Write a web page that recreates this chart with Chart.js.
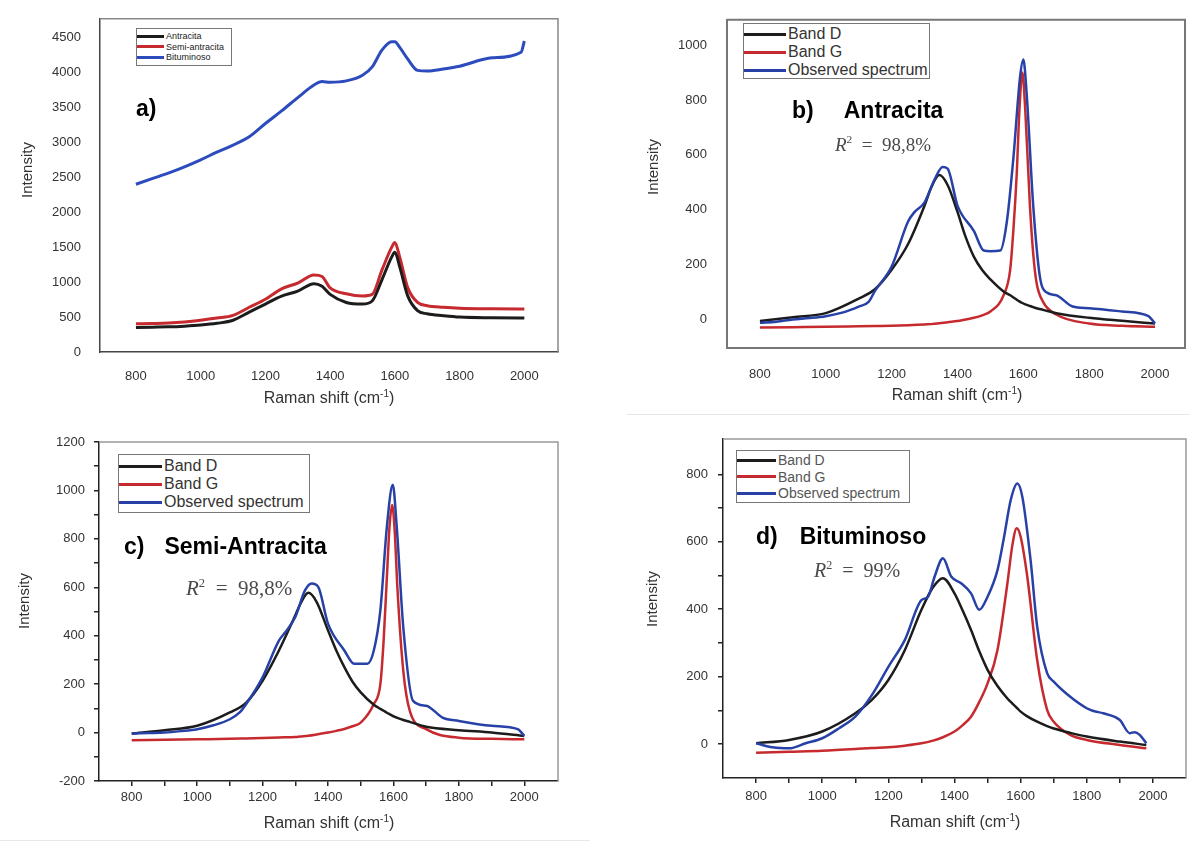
<!DOCTYPE html>
<html lang="es">
<head>
<meta charset="utf-8">
<title>Raman spectra</title>
<script src="https://cdn.jsdelivr.net/npm/chart.js@4.4.1/dist/chart.umd.min.js"></script>
<style>
	html, body { margin: 0; padding: 0; background: #fff; }
	body { position: relative; width: 1190px; height: 843px; overflow: hidden; font-family: 'Liberation Sans', Arial, sans-serif; color: #333; }
	canvas { position: absolute; }
	.txt { position: absolute; white-space: nowrap; line-height: 1; transform: translateY(-50%); }
	.tag { font-weight: bold; font-size: 23px; color: #000; }
	.r2 { font-family: 'Liberation Serif', 'DejaVu Serif', serif; color: #4a4a4a; }
	.r2 sup { font-size: 0.6em; line-height: 0; }
	.xt { font-size: 16px; transform: translate(-50%, -50%); }
	.yt { font-size: 15px; transform: translate(-50%, -50%) rotate(-90deg); }
	sup.u { font-size: 10px; line-height: 0; }
	.legend { position: absolute; border: 1px solid #777; background: #fff; box-sizing: border-box; }
	.legend .row { display: flex; align-items: center; white-space: nowrap; }
	.legend .smp { display: inline-block; height: 3px; margin-right: 2px; }
	.sep { position: absolute; height: 1px; background: #e8e8e8; }
</style>
</head>
<body>

<canvas id="chartA" width="595" height="410" style="left:0;top:0"></canvas>
<canvas id="chartB" width="590" height="410" style="left:600px;top:0"></canvas>
<canvas id="chartC" width="595" height="433" style="left:0;top:410px"></canvas>
<canvas id="chartD" width="590" height="433" style="left:600px;top:410px"></canvas>

<div class="sep" style="left:627px;top:414px;width:563px"></div>
<div class="sep" style="left:0;top:840px;width:590px"></div>

<div class="txt tag" style="left:136px;top:108px">a)</div>
<div class="txt tag" style="left:792px;top:110px">b)<span style="margin-left:30px">Antracita</span></div>
<div class="txt tag" style="left:124px;top:546px">c)<span style="margin-left:20px">Semi-Antracita</span></div>
<div class="txt tag" style="left:756px;top:536px">d)<span style="margin-left:22px">Bituminoso</span></div>

<div class="txt r2" style="left:835px;top:144px;font-size:19px"><i>R</i><sup>2</sup>&nbsp;&nbsp;=&nbsp;&nbsp;98,8%</div>
<div class="txt r2" style="left:186px;top:588px;font-size:21px"><i>R</i><sup>2</sup>&nbsp;&nbsp;=&nbsp;&nbsp;98,8%</div>
<div class="txt r2" style="left:814px;top:570px;font-size:20px"><i>R</i><sup>2</sup>&nbsp;&nbsp;=&nbsp;&nbsp;99%</div>

<div class="txt xt" style="left:329px;top:398px">Raman shift (cm<sup class="u">-1</sup>)</div>
<div class="txt yt" style="left:26px;top:170px">Intensity</div>
<div class="txt xt" style="left:957px;top:395px">Raman shift (cm<sup class="u">-1</sup>)</div>
<div class="txt yt" style="left:652px;top:167px">Intensity</div>
<div class="txt xt" style="left:329px;top:823px">Raman shift (cm<sup class="u">-1</sup>)</div>
<div class="txt yt" style="left:23px;top:601px">Intensity</div>
<div class="txt xt" style="left:955px;top:822px">Raman shift (cm<sup class="u">-1</sup>)</div>
<div class="txt yt" style="left:651px;top:599px">Intensity</div>

<script>
// ---- a) all three coals
var shiftA = [800, 850, 900, 950, 1000, 1050, 1100, 1150, 1200, 1250, 1300, 1350, 1375, 1400, 1450, 1500, 1530, 1560, 1590, 1600, 1615, 1640, 1670, 1700, 1750, 1800, 1900, 1990, 2000];
var antracitaA = [350, 355, 360, 370, 385, 410, 454, 570, 686, 800, 871, 978, 940, 825, 709, 686, 730, 1033, 1358, 1427, 1219, 800, 593, 547, 520, 500, 490, 487, 487];
var semiAntracitaA = [403, 408, 415, 430, 454, 485, 524, 640, 755, 904, 987, 1103, 1080, 918, 834, 802, 825, 1172, 1497, 1566, 1358, 918, 709, 663, 640, 626, 618, 616, 616];
var bituminosoA = [2400, 2480, 2560, 2650, 2750, 2860, 2960, 3080, 3270, 3450, 3640, 3820, 3870, 3860, 3880, 3960, 4080, 4320, 4440, 4440, 4360, 4190, 4030, 4020, 4050, 4090, 4210, 4290, 4450];
var legendA = ['Antracita', 'Semi-antracita', 'Bituminoso'];

// ---- b) Antracita
var shiftB = [800, 900, 1000, 1100, 1150, 1200, 1250, 1300, 1320, 1345, 1370, 1400, 1425, 1450, 1475, 1500, 1540, 1560, 1570, 1580, 1588, 1597, 1606, 1620, 1630, 1640, 1660, 1700, 1800, 1900, 2000];
var bandD_B = [-6, 8, 23, 76, 111, 181, 275, 415, 480, 526, 490, 392, 300, 228, 180, 146, 102, 88, 80, 72, 66, 60, 55, 49, 45, 41, 35, 23, 6, -5, -15];
var bandG_B = [-29, -28, -27, -25, -24, -23, -21, -18, -17, -14, -10, -6, 0, 6, 15, 29, 88, 181, 330, 532, 760, 900, 760, 415, 240, 135, 64, 18, -15, -23, -27];
var shiftObsB = [800, 850, 900, 950, 1000, 1050, 1100, 1130, 1150, 1200, 1250, 1270, 1300, 1330, 1355, 1370, 1400, 1450, 1480, 1500, 1530, 1550, 1570, 1590, 1600, 1610, 1630, 1650, 1670, 1700, 1750, 1800, 1900, 1980, 2000];
var observedB = [-12, -8, 0, 5, 12, 25, 47, 64, 105, 193, 357, 392, 427, 509, 556, 550, 415, 322, 251, 249, 251, 357, 591, 883, 947, 825, 415, 158, 99, 88, 47, 41, 29, 12, -15];

// ---- c) Semi-Antracita
var shiftC = [800, 900, 1000, 1100, 1150, 1200, 1250, 1300, 1315, 1340, 1365, 1400, 1425, 1450, 1475, 1500, 1540, 1560, 1570, 1580, 1588, 1596, 1604, 1612, 1630, 1650, 1700, 1800, 1900, 2000];
var bandD_C = [-4, 10, 28, 83, 124, 214, 339, 484, 530, 577, 540, 422, 340, 270, 210, 166, 115, 98, 90, 82, 76, 70, 65, 61, 52, 44, 24, 10, 0, -14];
var bandG_C = [-32, -30, -28, -26, -24, -22, -20, -18, -16, -13, -8, 0, 7, 15, 26, 41, 118, 200, 380, 643, 850, 940, 830, 600, 256, 90, 14, -21, -26, -28];
var shiftObsC = [800, 850, 900, 950, 1000, 1050, 1100, 1130, 1150, 1200, 1250, 1270, 1300, 1330, 1350, 1370, 1400, 1450, 1480, 1520, 1540, 1560, 1580, 1598, 1610, 1630, 1660, 1700, 1750, 1800, 1900, 1980, 2000];
var observedC = [-4, -2, 0, 6, 14, 30, 55, 83, 118, 228, 380, 415, 477, 588, 616, 602, 450, 339, 284, 284, 339, 505, 851, 1023, 851, 436, 131, 111, 62, 48, 28, 14, -14];

// ---- d) Bituminoso
var shiftD = [800, 900, 1000, 1100, 1150, 1200, 1250, 1300, 1335, 1365, 1400, 1425, 1450, 1475, 1500, 1530, 1560, 1575, 1588, 1600, 1620, 1650, 1680, 1700, 1750, 1800, 1900, 1980];
var bandD_D = [2, 12, 37, 91, 131, 190, 279, 398, 465, 492, 447, 395, 338, 275, 220, 172, 135, 120, 108, 96, 82, 66, 53, 46, 33, 22, 7, -3];
var bandG_D = [-26, -23, -20, -15, -12, -10, -5, 2, 10, 20, 37, 56, 81, 125, 180, 279, 477, 590, 640, 615, 497, 249, 101, 66, 27, 12, -3, -13];
var shiftObsD = [800, 850, 900, 950, 1000, 1050, 1100, 1150, 1200, 1250, 1300, 1320, 1340, 1365, 1390, 1420, 1450, 1475, 1500, 1530, 1550, 1570, 1590, 1605, 1630, 1650, 1680, 1700, 1750, 1800, 1820, 1850, 1900, 1930, 1945, 1960, 1980];
var observedD = [2, -10, -13, 2, 17, 46, 81, 145, 229, 309, 427, 437, 497, 551, 497, 477, 447, 398, 437, 516, 615, 724, 773, 734, 546, 348, 210, 185, 140, 106, 98, 91, 71, 32, 35, 27, 2];

var legendBands = ['Band D', 'Band G', 'Observed spectrum'];

// ---- ticks
var xLabels = [800, 1000, 1200, 1400, 1600, 1800, 2000];
var xTicksMinor = [800, 900, 1000, 1100, 1200, 1300, 1400, 1500, 1600, 1700, 1800, 1900, 2000];
var yLabelsA = [0, 500, 1000, 1500, 2000, 2500, 3000, 3500, 4000, 4500];
var yLabelsB = [0, 200, 400, 600, 800, 1000];
var yLabelsC = [-200, 0, 200, 400, 600, 800, 1000, 1200];
var yTicksC = [-200, -100, 0, 100, 200, 300, 400, 500, 600, 700, 800, 900, 1000, 1100, 1200];
var yLabelsD = [0, 200, 400, 600, 800];
var yTicksD = [0, 100, 200, 300, 400, 500, 600, 700, 800];

var BLACK = '#1c1c1c', RED = '#c62a2f', BLUE = '#2741a6';

Chart.defaults.font.family = "'Liberation Sans', Arial, sans-serif";

var frame = {
	id: 'frame',
	afterDraw: function (chart, args, opts) {
		var a = chart.chartArea, ctx = chart.ctx;
		ctx.save();
		ctx.strokeStyle = opts.color;
		ctx.lineWidth = opts.width;
		ctx.beginPath();
		ctx.moveTo(a.left, a.top);
		ctx.lineTo(a.right, a.top);
		ctx.lineTo(a.right, a.bottom);
		ctx.stroke();
		ctx.restore();
	}
};

function labelFn(list) {
	return function (v) { return list.indexOf(v) >= 0 ? String(v) : ''; };
}

function drawPanel(id, p) {
	var grid = p.tickMarks
		? { display: true, drawOnChartArea: false, drawTicks: true, tickLength: 5, color: p.axisColor, lineWidth: 1.5 }
		: { display: false };
	return new Chart(document.getElementById(id), {
		type: 'line',
		data: {
			datasets: p.series.map(function (s) {
				return {
					label: s.label,
					data: s.x.map(function (x, j) { return { x: x, y: s.y[j] }; }),
					borderColor: s.color,
					borderWidth: s.width,
					pointRadius: 0,
					fill: false,
					cubicInterpolationMode: 'monotone',
					order: s.order
				};
			})
		},
		options: {
			responsive: false,
			animation: false,
			layout: { padding: p.pad },
			plugins: {
				legend: { display: false },
				tooltip: { enabled: false },
				frame: { color: p.frameColor, width: p.frameWidth }
			},
			scales: {
				x: {
					type: 'linear',
					min: p.xMin,
					max: p.xMax,
					afterBuildTicks: function (sc) { sc.ticks = p.xTicks.map(function (v) { return { value: v }; }); },
					afterFit: function (sc) { sc.height = p.xH; },
					grid: grid,
					border: { display: true, color: p.axisColor, width: p.axisWidth },
					ticks: { autoSkip: false, maxRotation: 0, padding: p.xPad, color: '#333', font: { size: 13 }, callback: labelFn(xLabels) }
				},
				y: {
					type: 'linear',
					min: p.yMin,
					max: p.yMax,
					afterBuildTicks: function (sc) { sc.ticks = p.yTicks.map(function (v) { return { value: v }; }); },
					afterFit: function (sc) { sc.width = p.yW; },
					grid: grid,
					border: { display: true, color: p.axisColor, width: p.axisWidth },
					ticks: { autoSkip: false, padding: p.yPad, color: '#333', font: { size: 13 }, callback: labelFn(p.yLabels) }
				}
			}
		},
		plugins: [frame]
	});
}

function buildLegend(box, labels, colors) {
	var el = document.createElement('div');
	el.className = 'legend';
	el.style.cssText = 'left:' + box.left + 'px;top:' + box.top + 'px;width:' + box.width + 'px;height:' + box.height +
		'px;padding-top:' + box.padTop + 'px;font-size:' + box.font + 'px;color:' + box.color;
	labels.forEach(function (txt, i) {
		var row = document.createElement('div');
		row.className = 'row';
		row.style.height = box.rowH + 'px';
		var smp = document.createElement('span');
		smp.className = 'smp';
		smp.style.width = box.sampleW + 'px';
		smp.style.background = colors[i];
		row.appendChild(smp);
		row.appendChild(document.createTextNode(txt));
		el.appendChild(row);
	});
	document.body.appendChild(el);
}

drawPanel('chartA', {
	pad: { left: 0, top: 8, right: 37, bottom: 0 }, yW: 100, xH: 58, xPad: 9, yPad: 11,
	xMin: 689, xMax: 2104, yMin: 0, yMax: 4768,
	xTicks: xLabels, yTicks: yLabelsA, yLabels: yLabelsA,
	tickMarks: false, axisColor: '#444', axisWidth: 1.5, frameColor: '#888', frameWidth: 1.5,
	series: [
		{ label: legendA[0], x: shiftA, y: antracitaA, color: BLACK, width: 3, order: 1 },
		{ label: legendA[1], x: shiftA, y: semiAntracitaA, color: RED, width: 3, order: 2 },
		{ label: legendA[2], x: shiftA, y: bituminosoA, color: '#2c4cbd', width: 3, order: 0 }
	]
});

drawPanel('chartB', {
	pad: { left: 0, top: 7, right: 5, bottom: 0 }, yW: 127, xH: 62, xPad: 11, yPad: 12,
	xMin: 700, xMax: 2091, yMin: -104, yMax: 1092,
	xTicks: xLabels, yTicks: yLabelsB, yLabels: yLabelsB,
	tickMarks: false, axisColor: '#777', axisWidth: 2, frameColor: '#777', frameWidth: 2,
	series: [
		{ label: legendBands[0], x: shiftB, y: bandD_B, color: BLACK, width: 2.5, order: 1 },
		{ label: legendBands[1], x: shiftB, y: bandG_B, color: RED, width: 2.5, order: 2 },
		{ label: legendBands[2], x: shiftObsB, y: observedB, color: BLUE, width: 2.5, order: 0 }
	]
});

drawPanel('chartC', {
	pad: { left: 0, top: 32, right: 37, bottom: 0 }, yW: 99, xH: 62, xPad: 4, yPad: 9,
	xMin: 700, xMax: 2103, yMin: -200, yMax: 1200,
	xTicks: xTicksMinor, yTicks: yTicksC, yLabels: yLabelsC,
	tickMarks: true, axisColor: '#222', axisWidth: 1.5, frameColor: '#999', frameWidth: 1.5,
	series: [
		{ label: legendBands[0], x: shiftC, y: bandD_C, color: BLACK, width: 2.5, order: 1 },
		{ label: legendBands[1], x: shiftC, y: bandG_C, color: RED, width: 2.5, order: 2 },
		{ label: legendBands[2], x: shiftObsC, y: observedC, color: BLUE, width: 2.5, order: 0 }
	]
});

drawPanel('chartD', {
	pad: { left: 0, top: 29, right: 4, bottom: 0 }, yW: 123, xH: 65, xPad: 6, yPad: 10,
	xMin: 700, xMax: 2100, yMin: -101, yMax: 905,
	xTicks: xTicksMinor, yTicks: yTicksD, yLabels: yLabelsD,
	tickMarks: true, axisColor: '#222', axisWidth: 1.5, frameColor: '#999', frameWidth: 1.5,
	series: [
		{ label: legendBands[0], x: shiftD, y: bandD_D, color: BLACK, width: 2.5, order: 1 },
		{ label: legendBands[1], x: shiftD, y: bandG_D, color: RED, width: 2.5, order: 2 },
		{ label: legendBands[2], x: shiftObsD, y: observedD, color: BLUE, width: 2.5, order: 0 }
	]
});

buildLegend({ left: 136, top: 28, width: 96, height: 38, padTop: 2, rowH: 10.5, sampleW: 27, font: 9, color: '#222' },
	legendA, [BLACK, RED, '#2c4cbd']);
buildLegend({ left: 743, top: 23, width: 187, height: 56, padTop: 1, rowH: 18, sampleW: 42, font: 16, color: '#333' },
	legendBands, [BLACK, RED, BLUE]);
buildLegend({ left: 118, top: 454, width: 192, height: 59, padTop: 2, rowH: 18, sampleW: 43, font: 16, color: '#333' },
	legendBands, [BLACK, RED, BLUE]);
buildLegend({ left: 736, top: 450, width: 174, height: 53, padTop: 1, rowH: 16.5, sampleW: 39, font: 14, color: '#555' },
	legendBands, [BLACK, RED, BLUE]);
</script>
</body>
</html>
